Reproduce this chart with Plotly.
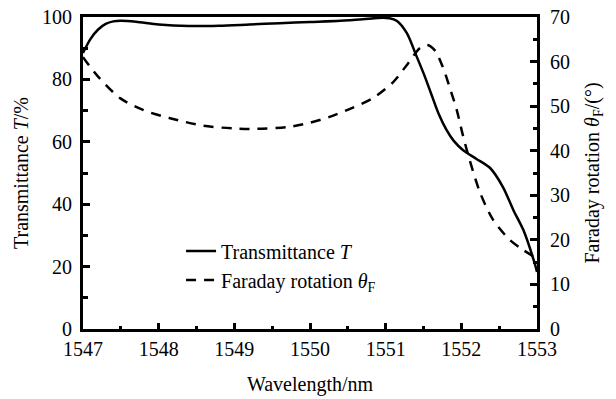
import plotly.graph_objects as go

wl_T = [1547.0, 1547.1, 1547.2, 1547.3, 1547.4, 1547.5, 1547.7, 1548.0, 1548.4, 1548.8,
        1549.2, 1549.6, 1550.0, 1550.4, 1550.7, 1550.9, 1551.05, 1551.15, 1551.28, 1551.41,
        1551.5, 1551.6, 1551.7, 1551.8, 1551.9, 1552.02, 1552.2, 1552.38, 1552.55, 1552.69,
        1552.82, 1552.97, 1553.0]
T_vals = [88.5, 93.0, 96.0, 97.8, 98.6, 98.8, 98.5, 97.6, 97.1, 97.2,
          97.6, 98.0, 98.4, 98.8, 99.3, 99.7, 99.6, 98.7, 94.8, 87.3,
          82.0, 75.5, 69.0, 64.0, 60.3, 57.4, 54.5, 51.6, 45.5, 38.0,
          31.7, 21.0, 18.3]

wl_F = [1547.0, 1547.18, 1547.49, 1547.8, 1548.15, 1548.59, 1549.0, 1549.3, 1549.7, 1550.0,
        1550.26, 1550.53, 1550.83, 1551.1, 1551.3, 1551.45, 1551.55, 1551.65, 1551.75, 1551.85,
        1551.94, 1552.02, 1552.11, 1552.25, 1552.42, 1552.64, 1552.82, 1553.0]
F_vals = [61.0, 57.0, 51.8, 49.1, 47.3, 45.6, 45.0, 44.9, 45.3, 46.3,
          47.6, 49.4, 51.8, 55.4, 59.7, 63.0, 63.7, 62.5, 59.0, 54.0,
          49.1, 43.5, 37.9, 30.5, 24.5, 20.0, 17.7, 15.8]

x_ticks = [1547, 1548, 1549, 1550, 1551, 1552, 1553]
y1_ticks = [0, 20, 40, 60, 80, 100]
y2_ticks = [0, 10, 20, 30, 40, 50, 60, 70]

FONT = "Liberation Serif"
FS = 20

fig = go.Figure()
fig.add_trace(go.Scatter(x=wl_T, y=T_vals, mode="lines", line_shape="spline",
                         line=dict(color="black", width=2.5, smoothing=0.8),
                         name="Transmittance <i>T</i>"))
fig.add_trace(go.Scatter(x=wl_F, y=F_vals, mode="lines", line_shape="spline",
                         line=dict(color="black", width=2.5, dash="10px,8px", smoothing=0.8),
                         name="Faraday rotation <i>θ</i><sub>F</sub>", yaxis="y2"))

axis_common = dict(showline=True, linecolor="black", linewidth=3, ticks="inside",
                   tickcolor="black", tickwidth=2.5, showgrid=False, zeroline=False,
                   automargin=False,
                   tickfont=dict(family=FONT, size=FS, color="black"))

fig.update_layout(
    width=616, height=399,
    margin=dict(l=83, r=79, t=17, b=70),
    paper_bgcolor="white", plot_bgcolor="white",
    font=dict(family=FONT, size=FS, color="black"),
    showlegend=True,
    legend=dict(x=0.216, y=0.3125, xanchor="left", yanchor="top",
                bgcolor="rgba(0,0,0,0)", font=dict(family=FONT, size=FS, color="black"),
                tracegroupgap=0),
    xaxis=dict(range=[1547, 1553], tickvals=x_ticks, ticklen=6, mirror=True,
               minor=dict(dtick=0.5, ticklen=3, ticks="inside", tickcolor="black", tickwidth=2.5),
               title=dict(text="Wavelength/nm", standoff=18, font=dict(family=FONT, size=FS)),
               **axis_common),
    yaxis=dict(range=[0, 100], tickvals=y1_ticks, ticklen=7,
               minor=dict(dtick=10, ticklen=5, ticks="inside", tickcolor="black", tickwidth=2.5),
               title=dict(text="Transmittance <i>T</i>/%", standoff=9, font=dict(family=FONT, size=FS)),
               ticklabelstandoff=4,
               **axis_common),
    yaxis2=dict(range=[0, 70], tickvals=y2_ticks, ticklen=7, overlaying="y", side="right",
                minor=dict(dtick=5, ticklen=4, ticks="inside", tickcolor="black", tickwidth=2.5),
                title=dict(text="Faraday rotation <i>θ</i><sub>F</sub>/(°)", standoff=16,
                           font=dict(family=FONT, size=FS)),
                ticklabelstandoff=6,
                **axis_common),
)

fig.write_html("out.html", config={"displayModeBar": False},
               post_script="document.body.style.margin='0';document.body.style.overflow='hidden';")
